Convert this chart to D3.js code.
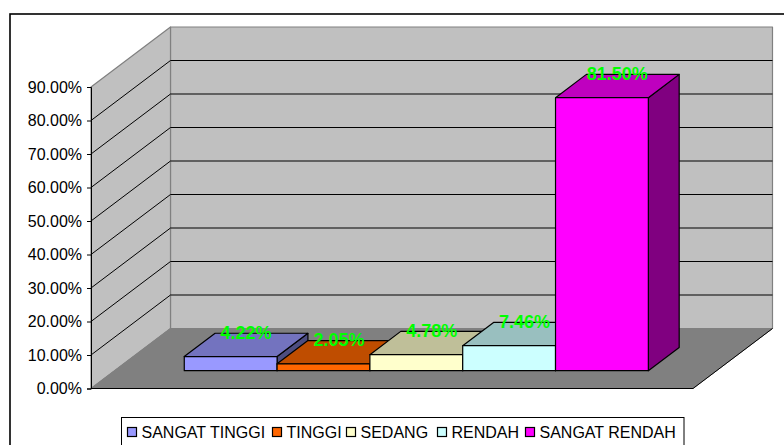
<!DOCTYPE html>
<html>
<head>
<meta charset="utf-8">
<script src="https://cdn.jsdelivr.net/npm/d3@7"></script>
<style>
body { margin: 0; background: #fff; }
svg { display: block; font-family: "Liberation Sans", Arial, sans-serif; }
</style>
</head>
<body>
<div id="chartContainer"></div>
<script>
var categories = ['SANGAT TINGGI', 'TINGGI', 'SEDANG', 'RENDAH', 'SANGAT RENDAH']
var values = [4.22, 2.05, 4.78, 7.46, 81.50]
var labels = ['4.22%', '2.05%', '4.78%', '7.46%', '81.50%']
var frontColors = ['#9999ff', '#ff6600', '#ffffcc', '#ccffff', '#ff00ff']
var topColors = ['#7373bf', '#bf4d00', '#bfbf99', '#99bfbf', '#bf00bf']
var sideColors = ['#4d4d80', '#803300', '#808066', '#668080', '#800080']
var yTicks = [0, 10, 20, 30, 40, 50, 60, 70, 80, 90]

var svg = d3.select('#chartContainer').append('svg')
    .attr('width', 784)
    .attr('height', 445)

svg.append('rect')
    .attr('x', 10).attr('y', 14)
    .attr('width', 790).attr('height', 450)
    .attr('fill', '#fff')
    .attr('stroke', '#000')
    .attr('stroke-width', 1.6)

var xScale = d3.scaleBand()
    .domain(categories)
    .range([91, 693])
    .paddingInner(0)
    .paddingOuter(0.743)
    .align(0.505)

var yScale = d3.scaleLinear()
    .domain([0, 90])
    .range([388.5, 87])

// depth goes from 0 (front of floor) to 1 (back wall)
var depthX = d3.scaleLinear().domain([0, 1]).range([0, 79.5])
var depthY = d3.scaleLinear().domain([0, 1]).range([0, -60])
var barFront = 0.297
var barBack = 0.685

function pt(x, v, z) {
    return [x + depthX(z), yScale(v) + depthY(z)]
}

function poly(points, fill, stroke, width) {
    return svg.append('path')
        .attr('d', 'M' + points.join('L') + 'Z')
        .attr('fill', fill)
        .attr('stroke', stroke)
        .attr('stroke-width', width)
        .attr('stroke-linejoin', 'round')
}

var x0 = 91, x1 = 693

// back wall, left wall, floor
poly([pt(x0, 0, 1), pt(x1, 0, 1), pt(x1, 90, 1), pt(x0, 90, 1)], '#c0c0c0', '#808080', 1.2)
poly([pt(x0, 0, 0), pt(x0, 0, 1), pt(x0, 90, 1), pt(x0, 90, 0)], '#c0c0c0', '#808080', 1.2)
poly([pt(x0, 0, 0), pt(x1, 0, 0), pt(x1, 0, 1), pt(x0, 0, 1)], '#808080', '#808080', 1)

// grid lines wrap around left wall and back wall
yTicks.slice(1, -1).forEach(function(t) {
    svg.append('path')
        .attr('d', 'M' + [pt(x0, t, 0), pt(x0, t, 1), pt(x1, t, 1)].join('L'))
        .attr('fill', 'none')
        .attr('stroke', '#000')
        .attr('stroke-width', 1)
})

// floor front and right edges
svg.append('path')
    .attr('d', 'M' + [pt(x0, 0, 0), pt(x1, 0, 0), pt(x1, 0, 1)].join('L'))
    .attr('fill', 'none')
    .attr('stroke', '#000')
    .attr('stroke-width', 1)

// y axis
var axisG = svg.append('g')
    .attr('class', 'yAxis')
    .attr('transform', 'translate(' + x0 + ',0)')
    .call(d3.axisLeft(yScale)
        .tickValues(yTicks)
        .tickSize(4)
        .tickPadding(5)
        .tickFormat(function(d) { return d3.format('.2f')(d) + '%' }))
axisG.selectAll('text').attr('font-size', 16).attr('font-family', '"Liberation Sans"').attr('fill', '#000')
axisG.selectAll('line').attr('stroke', '#000')
axisG.select('.domain').attr('stroke', '#000')

// bars, left to right so neighbours overlap the right way
categories.forEach(function(c, i) {
    var l = xScale(c), r = l + xScale.bandwidth(), v = values[i]
    poly([pt(r, 0, barFront), pt(r, 0, barBack), pt(r, v, barBack), pt(r, v, barFront)], sideColors[i], '#000', 1.2)
    poly([pt(l, v, barFront), pt(r, v, barFront), pt(r, v, barBack), pt(l, v, barBack)], topColors[i], '#000', 1.2)
    poly([pt(l, 0, barFront), pt(r, 0, barFront), pt(r, v, barFront), pt(l, v, barFront)], frontColors[i], '#000', 1.2)
})

// data labels
categories.forEach(function(c, i) {
    var p = pt(xScale(c) + xScale.bandwidth() / 2, values[i], (barFront + barBack) / 2)
    svg.append('text')
        .attr('x', p[0])
        .attr('y', p[1] - 6)
        .attr('text-anchor', 'middle')
        .attr('font-size', 18)
        .attr('font-weight', 'bold')
        .attr('fill', '#00ff00')
        .text(labels[i])
})

// legend
var legend = svg.append('g').attr('class', 'legend')
legend.append('rect')
    .attr('x', 121.5).attr('y', 417.5)
    .attr('width', 562.5).attr('height', 30)
    .attr('fill', '#fff')
    .attr('stroke', '#000')

var legendX = [127.5, 272.5, 346.5, 437.5, 525.5]
categories.forEach(function(c, i) {
    legend.append('rect')
        .attr('x', legendX[i]).attr('y', 427.5)
        .attr('width', 9).attr('height', 9)
        .attr('fill', frontColors[i])
        .attr('stroke', '#000')
        .attr('stroke-width', 1.2)
    legend.append('text')
        .attr('x', legendX[i] + 14)
        .attr('y', 438)
        .attr('font-size', 16)
        .attr('fill', '#000')
        .text(c)
})
</script>
</body>
</html>
